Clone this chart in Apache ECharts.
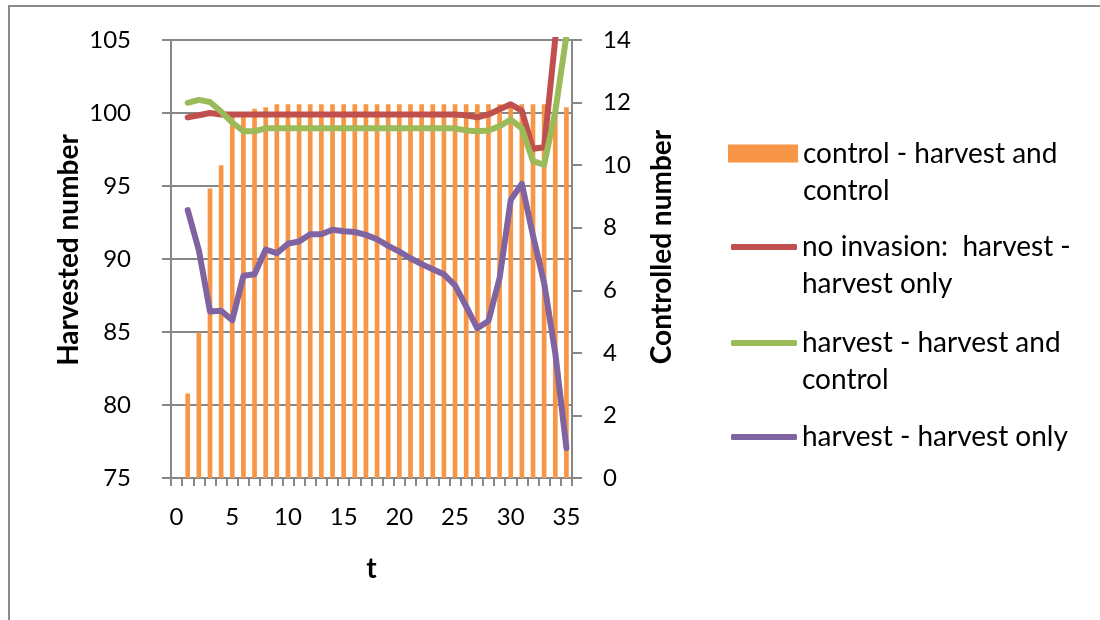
<!DOCTYPE html>
<html>
<head>
<meta charset="utf-8">
<script src="https://cdn.jsdelivr.net/npm/echarts@6/dist/echarts.min.js"></script>
<style>
  html, body { margin: 0; padding: 0; background: #fff; }
  #chart { width: 1100px; height: 620px; }
</style>
</head>
<body>
<div id="chart"></div>
<script>
// t = 0..35, nothing plotted at t = 0
const tLabels = ['0', '1', '2', '3', '4', '5', '6', '7', '8', '9', '10', '11', '12', '13', '14', '15', '16', '17',
  '18', '19', '20', '21', '22', '23', '24', '25', '26', '27', '28', '29', '30', '31', '32', '33', '34', '35'];

// controlled number (right axis)
const controlHC = [null, 2.7, 4.65, 9.25, 10.0, 11.55, 11.7, 11.8, 11.85, 11.95, 11.95, 11.95, 11.95, 11.95,
  11.95, 11.95, 11.95, 11.95, 11.95, 11.95, 11.95, 11.95, 11.95, 11.95, 11.95, 11.95, 11.95, 11.95, 11.95,
  11.95, 11.95, 11.95, 11.95, 11.95, 11.95, 11.85];

// harvested number (left axis)
const noInvasion = [null, 99.7, 99.85, 100.0, 99.9, 99.9, 99.9, 99.9, 99.9, 99.9, 99.9, 99.9, 99.9, 99.9,
  99.9, 99.9, 99.9, 99.9, 99.9, 99.9, 99.9, 99.9, 99.9, 99.9, 99.9, 99.9, 99.85, 99.7, 99.9, 100.25, 100.6,
  100.15, 97.55, 97.65, 105.1, 109];
const harvestHC = [null, 100.7, 100.9, 100.75, 100.1, 99.35, 98.75, 98.75, 98.95, 98.95, 98.95, 98.95, 98.95,
  98.95, 98.95, 98.95, 98.95, 98.95, 98.95, 98.95, 98.95, 98.95, 98.95, 98.95, 98.95, 98.95, 98.8, 98.75, 98.8,
  99.1, 99.55, 98.95, 96.7, 96.45, 100.1, 105.3];
const harvestOnly = [null, 93.35, 90.6, 86.4, 86.45, 85.8, 88.85, 88.95, 90.65, 90.4, 91.05, 91.2, 91.7, 91.7,
  92.0, 91.9, 91.85, 91.65, 91.35, 90.9, 90.5, 90.05, 89.65, 89.3, 88.95, 88.2, 86.75, 85.25, 85.75, 88.7,
  94.05, 95.15, 91.6, 88.35, 83.55, 77.05];

const names = ['control - harvest and control', 'no invasion:  harvest - harvest only',
  'harvest - harvest and control', 'harvest - harvest only'];
// leading blank line keeps the first text line level with the legend icon
const wrapped = {
  'control - harvest and control': '\ncontrol - harvest and\ncontrol',
  'no invasion:  harvest - harvest only': '\nno invasion:  harvest -\nharvest only',
  'harvest - harvest and control': '\nharvest - harvest and\ncontrol',
  'harvest - harvest only': 'harvest - harvest only'
};
const colors = ['#F79646', '#C0504D', '#9BBB59', '#8064A2'];

const font = 'Lato';
const gridColor = '#878787';

function legendFor(i, top) {
  const isBar = i === 0;
  return {
    orient: 'vertical',
    left: isBar ? 728 : 731,
    top: top,
    padding: 0,
    itemGap: 0,
    itemWidth: isBar ? 70 : 66,
    itemHeight: isBar ? 18 : 6,
    data: [{ name: names[i], icon: isBar ? 'rect' : 'roundRect' }],
    formatter: (n) => wrapped[n],
    selectedMode: false,
    textStyle: { fontFamily: font, fontSize: 28, color: '#000', lineHeight: 37 }
  };
}

const lineSeries = (i, data) => ({
  name: names[i],
  type: 'line',
  yAxisIndex: 0,
  data: data,
  symbol: 'none',
  clip: true,
  itemStyle: { color: colors[i] },
  lineStyle: { color: colors[i], width: 6, cap: 'round', join: 'round' }
});

const titleStyle = { fontFamily: font, fontSize: 28, fontWeight: 'bold', color: '#000' };

const chart = echarts.init(document.getElementById('chart'));
chart.setOption({
  animation: false,
  backgroundColor: '#fff',
  textStyle: { fontFamily: font },
  graphic: [{
    type: 'rect',
    shape: { x: 9, y: 6, width: 1200, height: 700 },
    style: { fill: 'none', stroke: '#8c8c8c', lineWidth: 2 },
    silent: true
  }],
  grid: { left: 171, right: 528, top: 40, bottom: 142 },
  legend: [
    legendFor(0, 98),
    legendFor(1, 191.5),
    legendFor(2, 287.5),
    legendFor(3, 418.5)
  ],
  xAxis: {
    type: 'category',
    data: tLabels,
    boundaryGap: true,
    name: 't',
    nameLocation: 'middle',
    nameGap: 77,
    nameTextStyle: titleStyle,
    axisLine: { lineStyle: { color: gridColor, width: 2 } },
    axisTick: { show: true, interval: 0, length: 8, lineStyle: { color: gridColor, width: 2 } },
    axisLabel: { interval: 4, margin: 27, fontFamily: font, fontSize: 24, color: '#000' },
    splitLine: { show: false }
  },
  yAxis: [{
    type: 'value',
    min: 75, max: 105, interval: 5,
    position: 'left',
    name: 'Harvested number',
    nameLocation: 'middle',
    nameGap: 88,
    nameTextStyle: Object.assign({ padding: [0, 0, 0, 18] }, titleStyle),
    axisLine: { show: true, lineStyle: { color: gridColor, width: 2 } },
    axisTick: { show: true, length: 9, lineStyle: { color: gridColor, width: 2 } },
    axisLabel: { margin: 40, fontFamily: font, fontSize: 24, color: '#000' },
    splitLine: { show: true, lineStyle: { color: gridColor, width: 2 } }
  }, {
    type: 'value',
    min: 0, max: 14, interval: 2,
    position: 'right',
    name: 'Controlled number',
    nameLocation: 'middle',
    nameGap: 76,
    nameTextStyle: Object.assign({ padding: [0, 0, 0, 24] }, titleStyle),
    axisLine: { show: true, lineStyle: { color: gridColor, width: 2 } },
    axisTick: { show: true, length: 10, lineStyle: { color: gridColor, width: 2 } },
    axisLabel: { margin: 31, fontFamily: font, fontSize: 24, color: '#000' },
    splitLine: { show: false }
  }],
  series: [
    {
      name: names[0],
      type: 'bar',
      yAxisIndex: 1,
      data: controlHC,
      barWidth: '42%',
      itemStyle: { color: colors[0] }
    },
    lineSeries(1, noInvasion),
    lineSeries(2, harvestHC),
    lineSeries(3, harvestOnly)
  ]
});
</script>
</body>
</html>
